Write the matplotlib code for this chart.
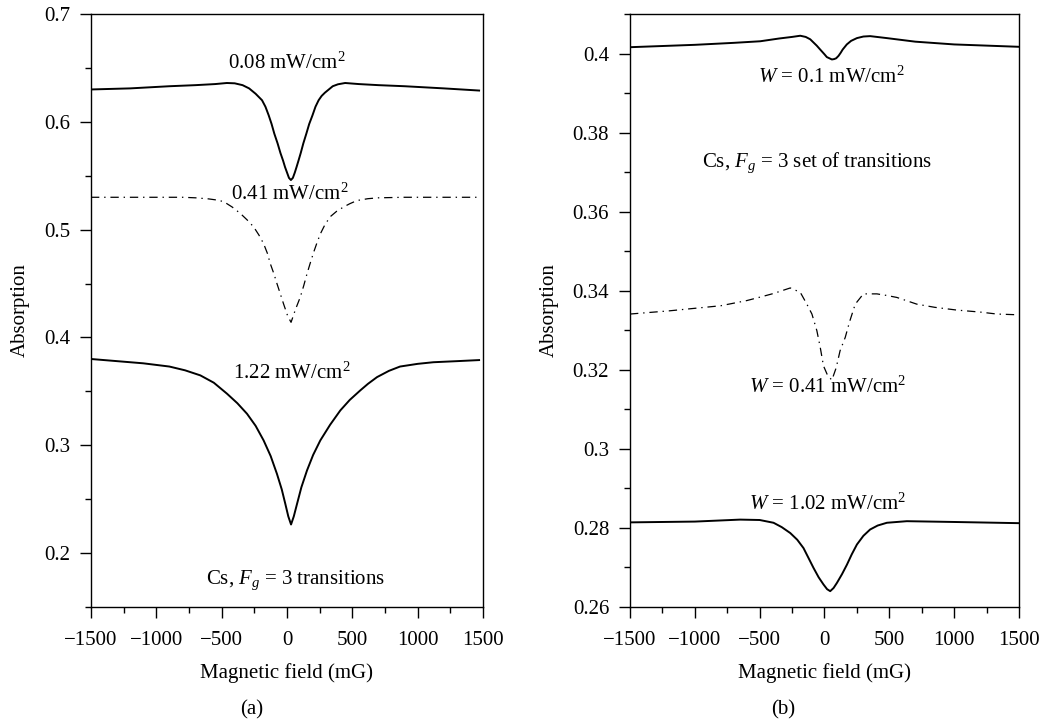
import numpy as np
import matplotlib
matplotlib.use("Agg")
import matplotlib.pyplot as plt
from matplotlib.ticker import MultipleLocator

# ---- data ----
# panel (a): Cs, Fg = 3 transitions
a1_field = [-1500, -1200, -900, -700, -550, -460, -400, -340, -290, -240, -191, -165, -140, -118, -97, -72,
            -50, -30, -15, 0, 15, 30, 45, 60, 73, 88, 105, 125, 148, 170, 195, 218, 242, 265, 290,
            320, 350, 390, 445, 550, 700, 900, 1200, 1470]
a1_abs = [0.630, 0.631, 0.633, 0.634, 0.635, 0.636, 0.6357, 0.634, 0.631, 0.626, 0.620, 0.614, 0.606, 0.598, 0.589, 0.580,
          0.571, 0.564, 0.558, 0.553, 0.548, 0.546, 0.548, 0.553, 0.558, 0.564, 0.571, 0.580, 0.589, 0.598, 0.606, 0.614, 0.620, 0.624, 0.627,
          0.630, 0.633, 0.6348, 0.636, 0.635, 0.634, 0.633, 0.631, 0.629]

a2_field = [-1500, -1000, -800, -700, -600, -540, -485, -420, -357, -305, -255, -215, -179, -150, -128, -100,
            -77, -50, -26, 5, 31, 65, 102, 128, 153, 178, 204, 230, 255, 290, 331, 380, 433, 480,
            536, 620, 700, 900, 1470]
a2_abs = [0.530, 0.530, 0.530, 0.5295, 0.5285, 0.5275, 0.526, 0.521, 0.515, 0.509, 0.5025, 0.495, 0.487, 0.478, 0.4685, 0.459,
          0.450, 0.440, 0.431, 0.420, 0.414, 0.426, 0.4375, 0.448, 0.459, 0.469, 0.479, 0.488, 0.496, 0.5045, 0.512, 0.517, 0.521, 0.524,
          0.527, 0.5287, 0.5295, 0.530, 0.530]

a3_field = [-1500, -1300, -1100, -900, -780, -663, -560, -459, -380, -306, -240, -179, -125, -77, -40, -13,
            10, 31, 52, 77, 110, 153, 200, 255, 330, 408, 480, 561, 620, 689, 780, 865, 1000, 1120, 1300, 1470]
a3_abs = [0.380, 0.378, 0.376, 0.373, 0.3695, 0.3648, 0.358, 0.3478, 0.339, 0.3292, 0.318, 0.3045, 0.290, 0.2735, 0.259, 0.2457,
          0.234, 0.2265, 0.234, 0.2457, 0.261, 0.2766, 0.291, 0.3045, 0.319, 0.3323, 0.342, 0.3509, 0.357, 0.3632, 0.369, 0.373, 0.3755, 0.377, 0.378, 0.379]

a_labels = ["0.08 mW/cm$^2$", "0.41 mW/cm$^2$", "1.22 mW/cm$^2$"]

# panel (b): Cs, Fg = 3 set of transitions
b1_field = [-1500, -1000, -700, -496, -350, -250, -187, -145, -110, -85, -60, -33, 0, 18, 57, 75, 90, 108,
            125, 140, 172, 205, 250, 300, 352, 481, 700, 1000, 1500]
b1_abs = [0.4016, 0.4022, 0.4027, 0.4031, 0.4038, 0.4042, 0.4045, 0.4042, 0.4036, 0.4028, 0.4020, 0.4010, 0.3998, 0.3991, 0.3985, 0.3986, 0.3988, 0.3994,
          0.4002, 0.4010, 0.4023, 0.4032, 0.4039, 0.4043, 0.4044, 0.4039, 0.4030, 0.4023, 0.4017]

b2_field = [-1500, -1200, -800, -600, -483, -393, -264, -187, -136, -97, -59, -33, -8, 25, 57,
            90, 120, 160, 193, 237, 300, 404, 480, 558, 640, 712, 850, 1021, 1200, 1329, 1500]
b2_abs = [0.3341, 0.3349, 0.3362, 0.3375, 0.3385, 0.3393, 0.3407, 0.3396, 0.3366, 0.3341, 0.3299, 0.3257, 0.3210, 0.3185, 0.3174,
          0.3205, 0.3248, 0.3282, 0.3321, 0.3366, 0.3392, 0.3392, 0.3388, 0.3383, 0.3374, 0.3366, 0.3358, 0.3351, 0.3346, 0.3341, 0.3339]

b3_field = [-1500, -1000, -651, -500, -393, -330, -264, -210, -162, -125, -85, -45, -8, 20, 44, 70,
            96, 135, 173, 210, 250, 300, 352, 410, 481, 635, 1000, 1500]
b3_abs = [0.2814, 0.2816, 0.2821, 0.2820, 0.2813, 0.2802, 0.2787, 0.2770, 0.2749, 0.2725, 0.2699, 0.2675, 0.2657, 0.2645, 0.2640, 0.2648,
          0.2661, 0.2683, 0.2707, 0.2733, 0.2758, 0.2780, 0.2796, 0.2806, 0.2813, 0.2817, 0.2815, 0.2812]

b_labels = ["$W$ = 0.1 mW/cm$^2$", "$W$ = 0.41 mW/cm$^2$", "$W$ = 1.02 mW/cm$^2$"]

# ---- style ----
plt.rcParams['font.family'] = ['Liberation Serif', 'DejaVu Serif']
plt.rcParams['mathtext.fontset'] = 'custom'
plt.rcParams['mathtext.rm'] = 'Liberation Serif'
plt.rcParams['mathtext.it'] = 'Liberation Serif:italic'
plt.rcParams['font.size'] = 15
plt.rcParams['lines.scale_dashes'] = False

dashdot = (0, (6, 3.5, 1, 3.5))

fig = plt.figure(figsize=(10.53, 7.25), dpi=100)
ax_a = fig.add_axes([0.0864, 0.1628, 0.3723, 0.8179])
ax_b = fig.add_axes([0.5983, 0.1628, 0.3694, 0.8179])


def style_axis(ax, ymajor, yminor):
    # boxed axes, ticks only on the left and bottom, pointing out
    ax.set_xlim(-1500, 1500)
    ax.xaxis.set_major_locator(MultipleLocator(500))
    ax.xaxis.set_minor_locator(MultipleLocator(250))
    ax.yaxis.set_minor_locator(MultipleLocator(yminor))
    ax.tick_params(which='major', direction='out', length=8, width=1)
    ax.tick_params(which='minor', direction='out', length=4, width=1)
    ax.tick_params(axis='x', pad=9)
    ax.tick_params(axis='y', pad=7)
    ax.tick_params(top=False, right=False, which='both')
    for sp in ax.spines.values():
        sp.set_linewidth(1)
    ax.yaxis.set_major_formatter(plt.FuncFormatter(lambda v, p: "%g" % round(v, 2)))
    ax.set_xlabel("Magnetic field (mG)", labelpad=10)
    ax.set_ylabel("Absorption", labelpad=10)


# panel (a)
ax_a.plot(a1_field, a1_abs, color='black', lw=1.4)
ax_a.plot(a2_field, a2_abs, color='black', lw=0.9, linestyle=dashdot)
ax_a.plot(a3_field, a3_abs, color='black', lw=1.4)
ax_a.set_ylim(0.15, 0.7)
ax_a.set_yticks([0.2, 0.3, 0.4, 0.5, 0.6, 0.7])
style_axis(ax_a, 0.1, 0.05)
ax_a.text(0, 0.6545, a_labels[0], ha='center', va='center')
ax_a.text(25, 0.533, a_labels[1], ha='center', va='center')
ax_a.text(38, 0.3667, a_labels[2], ha='center', va='center')
ax_a.text(63, 0.1745, "Cs, $F_g$ = 3 transitions", ha='center', va='center')

# panel (b)
ax_b.plot(b1_field, b1_abs, color='black', lw=1.4)
ax_b.plot(b2_field, b2_abs, color='black', lw=0.9, linestyle=dashdot)
ax_b.plot(b3_field, b3_abs, color='black', lw=1.4)
ax_b.set_ylim(0.26, 0.41)
ax_b.set_yticks([0.26, 0.28, 0.3, 0.32, 0.34, 0.36, 0.38, 0.4])
style_axis(ax_b, 0.02, 0.01)
ax_b.text(50, 0.394, b_labels[0], ha='center', va='center')
ax_b.text(-59, 0.3723, "Cs, $F_g$ = 3 set of transitions", ha='center', va='center')
ax_b.text(25, 0.3156, b_labels[1], ha='center', va='center')
ax_b.text(25, 0.2859, b_labels[2], ha='center', va='center')

# panel letters
fig.text(252 / 1053, 1 - 710 / 725, "(a)", ha='center', va='center')
fig.text(783 / 1053, 1 - 710 / 725, "(b)", ha='center', va='center')

fig.savefig("out.png", dpi=100)
